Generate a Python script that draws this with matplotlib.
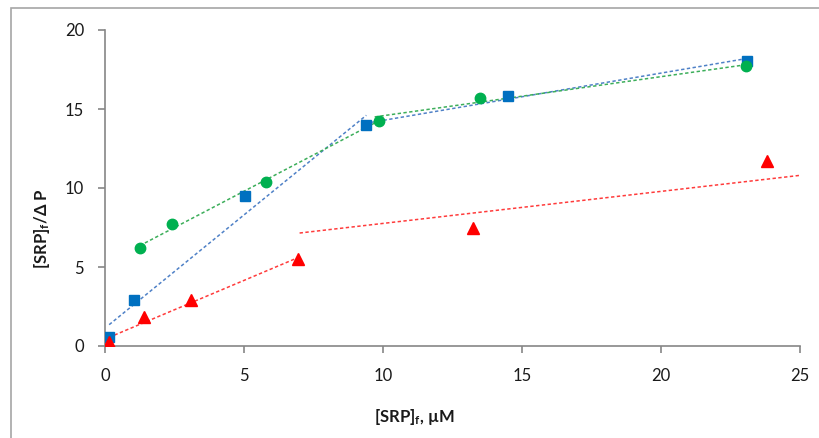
import numpy as np
import matplotlib.pyplot as plt
from matplotlib.patches import Rectangle

plt.rcParams['font.family'] = ['Lato', 'DejaVu Sans']
plt.rcParams['mathtext.fontset'] = 'custom'
plt.rcParams['mathtext.rm'] = 'Lato'
plt.rcParams['mathtext.bf'] = 'Lato:bold'
plt.rcParams['mathtext.it'] = 'Lato:italic'

# measured points
blue_x = [0.15, 1.05, 5.05, 9.4, 14.5, 23.1]
blue_y = [0.55, 2.9, 9.5, 14.0, 15.8, 18.05]
green_x = [1.25, 2.4, 5.8, 9.85, 13.5, 23.05]
green_y = [6.2, 7.7, 10.4, 14.25, 15.7, 17.7]
red_x = [0.15, 1.4, 3.1, 6.95, 13.25, 23.8]
red_y = [0.25, 1.85, 2.9, 5.5, 7.45, 11.7]

# trend line end points (x0, x1), (y0, y1)
blue_trend = [([0.15, 9.4], [1.35, 14.6]), ([9.4, 23.1], [14.1, 18.2])]
green_trend = [([1.25, 9.85], [6.35, 14.25]), ([9.7, 23.05], [14.5, 17.8])]
red_trend = [([0.15, 6.95], [0.55, 5.6]), ([7.0, 25.0], [7.15, 10.8])]

W, H = 820, 438
fig = plt.figure(figsize=(W/100, H/100), dpi=100)
ax = fig.add_axes([105/W, 1 - 346/H, 695/W, 316/H])

# outer chart border
fig.patches.append(Rectangle((11/W, -0.1), 1.0, 1 - 8/H + 0.1, transform=fig.transFigure,
                             fill=False, edgecolor='#a6a6a6', lw=1.2))

dash = (0, (2.2, 1.6))
for tx, ty in blue_trend:
	ax.plot(tx, ty, color='#4f81c7', lw=1.1, ls=dash)
for tx, ty in green_trend:
	ax.plot(tx, ty, color='#3cae5a', lw=1.1, ls=dash)
for tx, ty in red_trend:
	ax.plot(tx, ty, color='#ff3b3b', lw=1.1, ls=dash)

ax.plot(blue_x, blue_y, 's', color='#0070c0', ms=7.5, ls='none', zorder=3)
ax.plot(green_x, green_y, 'o', color='#00b050', ms=7.5, ls='none', zorder=3)
ax.plot(red_x, red_y, '^', color='#ff0000', ms=8.5, ls='none', zorder=3)

ax.set_xlim(0, 25)
ax.set_ylim(0, 20)
ax.set_xticks([0, 5, 10, 15, 20, 25])
ax.set_yticks([0, 5, 10, 15, 20])
for s in ['top', 'right']:
	ax.spines[s].set_visible(False)
for s in ['left', 'bottom']:
	ax.spines[s].set_color('#868686')
	ax.spines[s].set_linewidth(1.2)
ax.tick_params(colors='#868686', labelcolor='#1a1a1a', labelsize=12, length=5, width=1.2)
ax.tick_params(axis='x', pad=11)
ax.tick_params(axis='y', pad=10)

# axis titles placed where they sit in the original
fig.text(414/W, 1 - 417/H, r'[SRP]$_\mathbf{f}$, µM', fontsize=12, fontweight='bold',
         color='#1a1a1a', ha='center', va='center')
fig.text(42/W, 1 - 229/H, r'[SRP]$_\mathbf{f}$/Δ P', fontsize=12, fontweight='bold',
         color='#1a1a1a', ha='center', va='center', rotation=90)

fig.savefig('out.png', dpi=100)
